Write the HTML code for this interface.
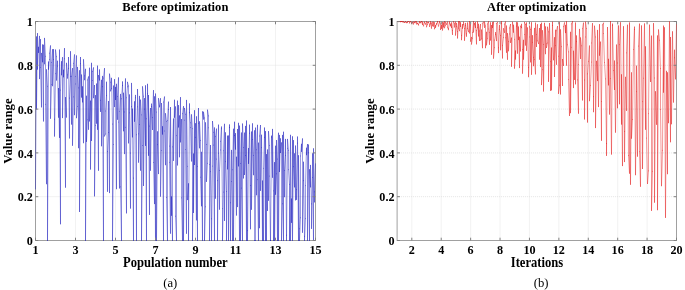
<!DOCTYPE html>
<html><head><meta charset="utf-8"><style>
html,body{margin:0;padding:0;background:#fff;}
svg{display:block;will-change:transform;}
.lab{font-family:"Liberation Serif", serif;font-weight:bold;font-size:13px;fill:#000;}
.tk{font-family:"Liberation Serif", serif;font-weight:bold;font-size:13.5px;fill:#000;}
.cap{font-family:"Liberation Serif", serif;font-size:13.5px;fill:#000;}
.grid{stroke:#dedede;stroke-width:0.8;stroke-dasharray:1 1;}
.box{fill:none;stroke:#a0a0a0;stroke-width:1;}
.tick{stroke:#808080;stroke-width:1;}
</style></head><body>
<svg width="685" height="290" viewBox="0 0 685 290">
<rect width="685" height="290" fill="#fff"/>
<line x1="75.50" y1="21.5" x2="75.50" y2="240.5" class="grid"/>
<line x1="115.50" y1="21.5" x2="115.50" y2="240.5" class="grid"/>
<line x1="155.50" y1="21.5" x2="155.50" y2="240.5" class="grid"/>
<line x1="195.50" y1="21.5" x2="195.50" y2="240.5" class="grid"/>
<line x1="235.50" y1="21.5" x2="235.50" y2="240.5" class="grid"/>
<line x1="275.50" y1="21.5" x2="275.50" y2="240.5" class="grid"/>
<line x1="35.5" y1="196.70" x2="315.5" y2="196.70" class="grid"/>
<line x1="35.5" y1="152.90" x2="315.5" y2="152.90" class="grid"/>
<line x1="35.5" y1="109.10" x2="315.5" y2="109.10" class="grid"/>
<line x1="35.5" y1="65.30" x2="315.5" y2="65.30" class="grid"/>
<rect x="35.5" y="21.5" width="280.00" height="219.0" class="box"/>
<g fill="none" stroke="#0808b8" stroke-width="0.6" stroke-opacity="0.68" stroke-linecap="round">
<line x1="35.5" y1="189.0" x2="36.5" y2="36.8"/>
<line x1="36.5" y1="36.8" x2="36.5" y2="109.1"/>
<line x1="36.5" y1="109.1" x2="37.5" y2="33.5"/>
<line x1="37.5" y1="33.5" x2="37.5" y2="69.2"/>
<line x1="37.5" y1="69.2" x2="38.5" y2="47.2"/>
<line x1="38.5" y1="47.2" x2="38.5" y2="52.5"/>
<line x1="38.5" y1="52.5" x2="39.5" y2="36.3"/>
<line x1="39.5" y1="36.3" x2="39.5" y2="78.7"/>
<line x1="39.5" y1="78.7" x2="40.5" y2="39.5"/>
<line x1="40.5" y1="39.5" x2="40.5" y2="67.3"/>
<line x1="40.5" y1="67.3" x2="41.5" y2="107.0"/>
<line x1="41.5" y1="107.0" x2="41.5" y2="53.3"/>
<line x1="41.5" y1="53.3" x2="42.5" y2="61.9"/>
<line x1="42.5" y1="61.9" x2="42.5" y2="44.8"/>
<line x1="42.5" y1="44.8" x2="43.5" y2="121.1"/>
<line x1="43.5" y1="121.1" x2="43.5" y2="45.1"/>
<line x1="43.5" y1="45.1" x2="44.5" y2="63.9"/>
<line x1="44.5" y1="63.9" x2="44.5" y2="38.3"/>
<line x1="44.5" y1="38.3" x2="45.5" y2="56.3"/>
<line x1="45.5" y1="56.3" x2="45.5" y2="104.3"/>
<line x1="45.5" y1="104.3" x2="46.5" y2="183.8"/>
<line x1="46.5" y1="183.8" x2="46.5" y2="69.7"/>
<line x1="46.5" y1="69.7" x2="47.5" y2="86.3"/>
<line x1="47.5" y1="86.3" x2="47.5" y2="240.5"/>
<line x1="47.5" y1="240.5" x2="48.5" y2="61.9"/>
<line x1="48.5" y1="61.9" x2="48.5" y2="69.3"/>
<line x1="48.5" y1="69.3" x2="49.5" y2="59.4"/>
<line x1="49.5" y1="59.4" x2="49.5" y2="53.2"/>
<line x1="49.5" y1="53.2" x2="50.5" y2="45.8"/>
<line x1="50.5" y1="45.8" x2="50.5" y2="118.4"/>
<line x1="50.5" y1="118.4" x2="51.5" y2="84.7"/>
<line x1="51.5" y1="84.7" x2="51.5" y2="62.4"/>
<line x1="51.5" y1="62.4" x2="52.5" y2="49.6"/>
<line x1="52.5" y1="49.6" x2="52.5" y2="85.8"/>
<line x1="52.5" y1="85.8" x2="53.5" y2="59.6"/>
<line x1="53.5" y1="59.6" x2="53.5" y2="49.5"/>
<line x1="53.5" y1="49.5" x2="54.5" y2="119.2"/>
<line x1="54.5" y1="119.2" x2="54.5" y2="136.2"/>
<line x1="54.5" y1="136.2" x2="55.5" y2="73.7"/>
<line x1="55.5" y1="73.7" x2="55.5" y2="49.9"/>
<line x1="55.5" y1="49.9" x2="56.5" y2="56.7"/>
<line x1="56.5" y1="56.7" x2="56.5" y2="80.2"/>
<line x1="56.5" y1="80.2" x2="57.5" y2="61.1"/>
<line x1="57.5" y1="61.1" x2="57.5" y2="66.1"/>
<line x1="57.5" y1="66.1" x2="58.5" y2="117.3"/>
<line x1="58.5" y1="117.3" x2="58.5" y2="88.4"/>
<line x1="58.5" y1="88.4" x2="59.5" y2="137.5"/>
<line x1="59.5" y1="137.5" x2="59.5" y2="49.9"/>
<line x1="59.5" y1="49.9" x2="60.5" y2="223.9"/>
<line x1="60.5" y1="223.9" x2="60.5" y2="90.1"/>
<line x1="60.5" y1="90.1" x2="61.5" y2="61.6"/>
<line x1="61.5" y1="61.6" x2="61.5" y2="74.9"/>
<line x1="61.5" y1="74.9" x2="62.5" y2="57.5"/>
<line x1="62.5" y1="57.5" x2="62.5" y2="117.7"/>
<line x1="62.5" y1="117.7" x2="63.5" y2="70.1"/>
<line x1="63.5" y1="70.1" x2="63.5" y2="76.9"/>
<line x1="63.5" y1="76.9" x2="64.5" y2="48.5"/>
<line x1="64.5" y1="48.5" x2="64.5" y2="58.8"/>
<line x1="64.5" y1="58.8" x2="65.5" y2="187.3"/>
<line x1="65.5" y1="187.3" x2="65.5" y2="97.5"/>
<line x1="65.5" y1="97.5" x2="66.5" y2="117.2"/>
<line x1="66.5" y1="117.2" x2="66.5" y2="63.2"/>
<line x1="66.5" y1="63.2" x2="67.5" y2="74.9"/>
<line x1="67.5" y1="74.9" x2="67.5" y2="78.2"/>
<line x1="67.5" y1="78.2" x2="68.5" y2="68.3"/>
<line x1="68.5" y1="68.3" x2="68.5" y2="57.4"/>
<line x1="68.5" y1="57.4" x2="69.5" y2="138.1"/>
<line x1="69.5" y1="138.1" x2="69.5" y2="98.1"/>
<line x1="69.5" y1="98.1" x2="70.5" y2="76.3"/>
<line x1="70.5" y1="76.3" x2="70.5" y2="51.6"/>
<line x1="70.5" y1="51.6" x2="71.5" y2="124.2"/>
<line x1="71.5" y1="124.2" x2="71.5" y2="76.3"/>
<line x1="71.5" y1="76.3" x2="72.5" y2="68.5"/>
<line x1="72.5" y1="68.5" x2="72.5" y2="145.4"/>
<line x1="72.5" y1="145.4" x2="73.5" y2="96.9"/>
<line x1="73.5" y1="96.9" x2="73.5" y2="63.3"/>
<line x1="73.5" y1="63.3" x2="74.5" y2="54.8"/>
<line x1="74.5" y1="54.8" x2="74.5" y2="114.8"/>
<line x1="74.5" y1="114.8" x2="75.5" y2="84.0"/>
<line x1="75.5" y1="84.0" x2="75.5" y2="76.4"/>
<line x1="75.5" y1="76.4" x2="76.5" y2="55.8"/>
<line x1="76.5" y1="55.8" x2="76.5" y2="117.8"/>
<line x1="76.5" y1="117.8" x2="77.5" y2="106.5"/>
<line x1="77.5" y1="106.5" x2="77.5" y2="67.3"/>
<line x1="77.5" y1="67.3" x2="78.5" y2="87.9"/>
<line x1="78.5" y1="87.9" x2="78.5" y2="147.8"/>
<line x1="78.5" y1="147.8" x2="79.5" y2="70.6"/>
<line x1="79.5" y1="70.6" x2="79.5" y2="211.6"/>
<line x1="79.5" y1="211.6" x2="80.5" y2="57.4"/>
<line x1="80.5" y1="57.4" x2="80.5" y2="63.7"/>
<line x1="80.5" y1="63.7" x2="81.5" y2="97.2"/>
<line x1="81.5" y1="97.2" x2="81.5" y2="74.9"/>
<line x1="81.5" y1="74.9" x2="82.5" y2="102.0"/>
<line x1="82.5" y1="102.0" x2="82.5" y2="86.7"/>
<line x1="82.5" y1="86.7" x2="83.5" y2="142.8"/>
<line x1="83.5" y1="142.8" x2="83.5" y2="59.6"/>
<line x1="83.5" y1="59.6" x2="84.5" y2="75.9"/>
<line x1="84.5" y1="75.9" x2="84.5" y2="79.8"/>
<line x1="84.5" y1="79.8" x2="85.5" y2="69.2"/>
<line x1="85.5" y1="69.2" x2="85.5" y2="240.5"/>
<line x1="85.5" y1="240.5" x2="86.5" y2="96.1"/>
<line x1="86.5" y1="96.1" x2="86.5" y2="141.5"/>
<line x1="86.5" y1="141.5" x2="87.5" y2="119.8"/>
<line x1="87.5" y1="119.8" x2="87.5" y2="80.0"/>
<line x1="87.5" y1="80.0" x2="88.5" y2="76.8"/>
<line x1="88.5" y1="76.8" x2="88.5" y2="129.4"/>
<line x1="88.5" y1="129.4" x2="89.5" y2="68.1"/>
<line x1="89.5" y1="68.1" x2="89.5" y2="121.1"/>
<line x1="89.5" y1="121.1" x2="90.5" y2="101.0"/>
<line x1="90.5" y1="101.0" x2="90.5" y2="169.2"/>
<line x1="90.5" y1="169.2" x2="91.5" y2="63.2"/>
<line x1="91.5" y1="63.2" x2="91.5" y2="140.6"/>
<line x1="91.5" y1="140.6" x2="92.5" y2="80.6"/>
<line x1="92.5" y1="80.6" x2="92.5" y2="71.6"/>
<line x1="92.5" y1="71.6" x2="93.5" y2="67.8"/>
<line x1="93.5" y1="67.8" x2="93.5" y2="97.8"/>
<line x1="93.5" y1="97.8" x2="94.5" y2="85.4"/>
<line x1="94.5" y1="85.4" x2="94.5" y2="196.0"/>
<line x1="94.5" y1="196.0" x2="95.5" y2="125.5"/>
<line x1="95.5" y1="125.5" x2="95.5" y2="95.5"/>
<line x1="95.5" y1="95.5" x2="96.5" y2="123.3"/>
<line x1="96.5" y1="123.3" x2="96.5" y2="83.9"/>
<line x1="96.5" y1="83.9" x2="97.5" y2="129.4"/>
<line x1="97.5" y1="129.4" x2="97.5" y2="66.0"/>
<line x1="97.5" y1="66.0" x2="98.5" y2="170.4"/>
<line x1="98.5" y1="170.4" x2="98.5" y2="75.5"/>
<line x1="98.5" y1="75.5" x2="99.5" y2="80.1"/>
<line x1="99.5" y1="80.1" x2="99.5" y2="69.8"/>
<line x1="99.5" y1="69.8" x2="100.5" y2="111.5"/>
<line x1="100.5" y1="111.5" x2="100.5" y2="100.3"/>
<line x1="100.5" y1="100.3" x2="101.5" y2="80.2"/>
<line x1="101.5" y1="80.2" x2="101.5" y2="145.9"/>
<line x1="101.5" y1="145.9" x2="102.5" y2="76.3"/>
<line x1="102.5" y1="76.3" x2="102.5" y2="86.7"/>
<line x1="102.5" y1="86.7" x2="103.5" y2="240.5"/>
<line x1="103.5" y1="240.5" x2="103.5" y2="78.1"/>
<line x1="103.5" y1="78.1" x2="104.5" y2="68.5"/>
<line x1="104.5" y1="68.5" x2="104.5" y2="136.1"/>
<line x1="104.5" y1="136.1" x2="105.5" y2="134.0"/>
<line x1="105.5" y1="134.0" x2="105.5" y2="111.0"/>
<line x1="105.5" y1="111.0" x2="106.5" y2="95.7"/>
<line x1="106.5" y1="95.7" x2="106.5" y2="82.1"/>
<line x1="106.5" y1="82.1" x2="107.5" y2="191.4"/>
<line x1="107.5" y1="191.4" x2="107.5" y2="151.6"/>
<line x1="107.5" y1="151.6" x2="108.5" y2="132.4"/>
<line x1="108.5" y1="132.4" x2="108.5" y2="101.4"/>
<line x1="108.5" y1="101.4" x2="109.5" y2="192.7"/>
<line x1="109.5" y1="192.7" x2="109.5" y2="74.0"/>
<line x1="109.5" y1="74.0" x2="110.5" y2="82.2"/>
<line x1="110.5" y1="82.2" x2="110.5" y2="91.0"/>
<line x1="110.5" y1="91.0" x2="111.5" y2="88.7"/>
<line x1="111.5" y1="88.7" x2="111.5" y2="78.2"/>
<line x1="111.5" y1="78.2" x2="112.5" y2="124.1"/>
<line x1="112.5" y1="124.1" x2="112.5" y2="240.5"/>
<line x1="112.5" y1="240.5" x2="113.5" y2="144.4"/>
<line x1="113.5" y1="144.4" x2="113.5" y2="85.9"/>
<line x1="113.5" y1="85.9" x2="114.5" y2="106.7"/>
<line x1="114.5" y1="106.7" x2="114.5" y2="79.5"/>
<line x1="114.5" y1="79.5" x2="115.5" y2="99.6"/>
<line x1="115.5" y1="99.6" x2="115.5" y2="87.3"/>
<line x1="115.5" y1="87.3" x2="116.5" y2="188.8"/>
<line x1="116.5" y1="188.8" x2="116.5" y2="84.2"/>
<line x1="116.5" y1="84.2" x2="117.5" y2="119.4"/>
<line x1="117.5" y1="119.4" x2="117.5" y2="96.6"/>
<line x1="117.5" y1="96.6" x2="118.5" y2="77.8"/>
<line x1="118.5" y1="77.8" x2="118.5" y2="122.1"/>
<line x1="118.5" y1="122.1" x2="119.5" y2="188.1"/>
<line x1="119.5" y1="188.1" x2="119.5" y2="111.3"/>
<line x1="119.5" y1="111.3" x2="120.5" y2="94.3"/>
<line x1="120.5" y1="94.3" x2="120.5" y2="186.9"/>
<line x1="120.5" y1="186.9" x2="121.5" y2="240.5"/>
<line x1="121.5" y1="240.5" x2="121.5" y2="98.8"/>
<line x1="121.5" y1="98.8" x2="122.5" y2="85.6"/>
<line x1="122.5" y1="85.6" x2="122.5" y2="81.8"/>
<line x1="122.5" y1="81.8" x2="123.5" y2="130.9"/>
<line x1="123.5" y1="130.9" x2="123.5" y2="93.1"/>
<line x1="123.5" y1="93.1" x2="124.5" y2="153.7"/>
<line x1="124.5" y1="153.7" x2="124.5" y2="112.0"/>
<line x1="124.5" y1="112.0" x2="125.5" y2="78.8"/>
<line x1="125.5" y1="78.8" x2="125.5" y2="127.3"/>
<line x1="125.5" y1="127.3" x2="126.5" y2="213.0"/>
<line x1="126.5" y1="213.0" x2="126.5" y2="97.8"/>
<line x1="126.5" y1="97.8" x2="127.5" y2="86.8"/>
<line x1="127.5" y1="86.8" x2="127.5" y2="82.2"/>
<line x1="127.5" y1="82.2" x2="128.5" y2="86.0"/>
<line x1="128.5" y1="86.0" x2="128.5" y2="143.0"/>
<line x1="128.5" y1="143.0" x2="129.5" y2="94.8"/>
<line x1="129.5" y1="94.8" x2="129.5" y2="112.9"/>
<line x1="129.5" y1="112.9" x2="130.5" y2="208.2"/>
<line x1="130.5" y1="208.2" x2="130.5" y2="153.1"/>
<line x1="130.5" y1="153.1" x2="131.5" y2="106.6"/>
<line x1="131.5" y1="106.6" x2="131.5" y2="83.3"/>
<line x1="131.5" y1="83.3" x2="132.5" y2="137.0"/>
<line x1="132.5" y1="137.0" x2="132.5" y2="109.0"/>
<line x1="132.5" y1="109.0" x2="133.5" y2="240.5"/>
<line x1="133.5" y1="240.5" x2="133.5" y2="178.1"/>
<line x1="133.5" y1="178.1" x2="134.5" y2="101.7"/>
<line x1="134.5" y1="101.7" x2="134.5" y2="121.4"/>
<line x1="134.5" y1="121.4" x2="135.5" y2="95.3"/>
<line x1="135.5" y1="95.3" x2="135.5" y2="97.8"/>
<line x1="135.5" y1="97.8" x2="136.5" y2="240.5"/>
<line x1="136.5" y1="240.5" x2="136.5" y2="134.8"/>
<line x1="136.5" y1="134.8" x2="137.5" y2="106.9"/>
<line x1="137.5" y1="106.9" x2="137.5" y2="89.4"/>
<line x1="137.5" y1="89.4" x2="138.5" y2="133.9"/>
<line x1="138.5" y1="133.9" x2="138.5" y2="162.3"/>
<line x1="138.5" y1="162.3" x2="139.5" y2="96.3"/>
<line x1="139.5" y1="96.3" x2="139.5" y2="124.4"/>
<line x1="139.5" y1="124.4" x2="140.5" y2="170.3"/>
<line x1="140.5" y1="170.3" x2="140.5" y2="100.0"/>
<line x1="140.5" y1="100.0" x2="141.5" y2="114.9"/>
<line x1="141.5" y1="114.9" x2="141.5" y2="240.5"/>
<line x1="141.5" y1="240.5" x2="142.5" y2="145.5"/>
<line x1="142.5" y1="145.5" x2="142.5" y2="86.7"/>
<line x1="142.5" y1="86.7" x2="143.5" y2="96.2"/>
<line x1="143.5" y1="96.2" x2="143.5" y2="185.6"/>
<line x1="143.5" y1="185.6" x2="144.5" y2="98.5"/>
<line x1="144.5" y1="98.5" x2="144.5" y2="109.1"/>
<line x1="144.5" y1="109.1" x2="145.5" y2="145.5"/>
<line x1="145.5" y1="145.5" x2="145.5" y2="85.7"/>
<line x1="145.5" y1="85.7" x2="146.5" y2="240.5"/>
<line x1="146.5" y1="240.5" x2="146.5" y2="118.8"/>
<line x1="146.5" y1="118.8" x2="147.5" y2="93.8"/>
<line x1="147.5" y1="93.8" x2="147.5" y2="84.2"/>
<line x1="147.5" y1="84.2" x2="148.5" y2="155.4"/>
<line x1="148.5" y1="155.4" x2="148.5" y2="95.4"/>
<line x1="148.5" y1="95.4" x2="149.5" y2="214.5"/>
<line x1="149.5" y1="214.5" x2="149.5" y2="126.1"/>
<line x1="149.5" y1="126.1" x2="150.5" y2="108.4"/>
<line x1="150.5" y1="108.4" x2="150.5" y2="170.4"/>
<line x1="150.5" y1="170.4" x2="151.5" y2="106.6"/>
<line x1="151.5" y1="106.6" x2="151.5" y2="104.0"/>
<line x1="151.5" y1="104.0" x2="152.5" y2="129.6"/>
<line x1="152.5" y1="129.6" x2="152.5" y2="117.5"/>
<line x1="152.5" y1="117.5" x2="153.5" y2="90.5"/>
<line x1="153.5" y1="90.5" x2="153.5" y2="162.5"/>
<line x1="153.5" y1="162.5" x2="154.5" y2="203.7"/>
<line x1="154.5" y1="203.7" x2="154.5" y2="96.7"/>
<line x1="154.5" y1="96.7" x2="155.5" y2="240.5"/>
<line x1="155.5" y1="240.5" x2="155.5" y2="93.9"/>
<line x1="155.5" y1="93.9" x2="156.5" y2="112.1"/>
<line x1="156.5" y1="112.1" x2="156.5" y2="240.5"/>
<line x1="156.5" y1="240.5" x2="157.5" y2="131.7"/>
<line x1="157.5" y1="131.7" x2="157.5" y2="144.7"/>
<line x1="157.5" y1="144.7" x2="158.5" y2="173.7"/>
<line x1="158.5" y1="173.7" x2="158.5" y2="98.5"/>
<line x1="158.5" y1="98.5" x2="159.5" y2="106.0"/>
<line x1="159.5" y1="106.0" x2="159.5" y2="107.0"/>
<line x1="159.5" y1="107.0" x2="160.5" y2="98.6"/>
<line x1="160.5" y1="98.6" x2="160.5" y2="196.3"/>
<line x1="160.5" y1="196.3" x2="161.5" y2="150.4"/>
<line x1="161.5" y1="150.4" x2="161.5" y2="103.4"/>
<line x1="161.5" y1="103.4" x2="162.5" y2="134.2"/>
<line x1="162.5" y1="134.2" x2="162.5" y2="126.6"/>
<line x1="162.5" y1="126.6" x2="163.5" y2="240.5"/>
<line x1="163.5" y1="240.5" x2="163.5" y2="102.1"/>
<line x1="163.5" y1="102.1" x2="164.5" y2="96.9"/>
<line x1="164.5" y1="96.9" x2="164.5" y2="131.0"/>
<line x1="164.5" y1="131.0" x2="165.5" y2="164.8"/>
<line x1="165.5" y1="164.8" x2="165.5" y2="113.6"/>
<line x1="165.5" y1="113.6" x2="166.5" y2="121.6"/>
<line x1="166.5" y1="121.6" x2="166.5" y2="197.5"/>
<line x1="166.5" y1="197.5" x2="167.5" y2="240.5"/>
<line x1="167.5" y1="240.5" x2="167.5" y2="120.4"/>
<line x1="167.5" y1="120.4" x2="168.5" y2="102.0"/>
<line x1="168.5" y1="102.0" x2="168.5" y2="109.4"/>
<line x1="168.5" y1="109.4" x2="169.5" y2="146.1"/>
<line x1="169.5" y1="146.1" x2="169.5" y2="162.3"/>
<line x1="169.5" y1="162.3" x2="170.5" y2="233.3"/>
<line x1="170.5" y1="233.3" x2="170.5" y2="107.4"/>
<line x1="170.5" y1="107.4" x2="171.5" y2="215.4"/>
<line x1="171.5" y1="215.4" x2="171.5" y2="196.8"/>
<line x1="171.5" y1="196.8" x2="172.5" y2="240.5"/>
<line x1="172.5" y1="240.5" x2="172.5" y2="146.9"/>
<line x1="172.5" y1="146.9" x2="173.5" y2="118.9"/>
<line x1="173.5" y1="118.9" x2="173.5" y2="160.5"/>
<line x1="173.5" y1="160.5" x2="174.5" y2="100.1"/>
<line x1="174.5" y1="100.1" x2="174.5" y2="117.3"/>
<line x1="174.5" y1="117.3" x2="175.5" y2="106.8"/>
<line x1="175.5" y1="106.8" x2="175.5" y2="216.2"/>
<line x1="175.5" y1="216.2" x2="176.5" y2="240.5"/>
<line x1="176.5" y1="240.5" x2="176.5" y2="135.7"/>
<line x1="176.5" y1="135.7" x2="177.5" y2="101.0"/>
<line x1="177.5" y1="101.0" x2="177.5" y2="165.1"/>
<line x1="177.5" y1="165.1" x2="178.5" y2="105.5"/>
<line x1="178.5" y1="105.5" x2="178.5" y2="127.1"/>
<line x1="178.5" y1="127.1" x2="179.5" y2="115.8"/>
<line x1="179.5" y1="115.8" x2="179.5" y2="156.9"/>
<line x1="179.5" y1="156.9" x2="180.5" y2="97.5"/>
<line x1="180.5" y1="97.5" x2="180.5" y2="142.0"/>
<line x1="180.5" y1="142.0" x2="181.5" y2="119.4"/>
<line x1="181.5" y1="119.4" x2="181.5" y2="197.9"/>
<line x1="181.5" y1="197.9" x2="182.5" y2="240.5"/>
<line x1="182.5" y1="240.5" x2="182.5" y2="113.7"/>
<line x1="182.5" y1="113.7" x2="183.5" y2="106.5"/>
<line x1="183.5" y1="106.5" x2="183.5" y2="240.5"/>
<line x1="183.5" y1="240.5" x2="184.5" y2="120.2"/>
<line x1="184.5" y1="120.2" x2="184.5" y2="108.3"/>
<line x1="184.5" y1="108.3" x2="185.5" y2="114.3"/>
<line x1="185.5" y1="114.3" x2="185.5" y2="149.6"/>
<line x1="185.5" y1="149.6" x2="186.5" y2="233.4"/>
<line x1="186.5" y1="233.4" x2="186.5" y2="100.3"/>
<line x1="186.5" y1="100.3" x2="187.5" y2="166.3"/>
<line x1="187.5" y1="166.3" x2="187.5" y2="199.7"/>
<line x1="187.5" y1="199.7" x2="188.5" y2="183.7"/>
<line x1="188.5" y1="183.7" x2="188.5" y2="240.5"/>
<line x1="188.5" y1="240.5" x2="189.5" y2="103.8"/>
<line x1="189.5" y1="103.8" x2="189.5" y2="112.7"/>
<line x1="189.5" y1="112.7" x2="190.5" y2="122.8"/>
<line x1="190.5" y1="122.8" x2="190.5" y2="127.4"/>
<line x1="190.5" y1="127.4" x2="191.5" y2="161.1"/>
<line x1="191.5" y1="161.1" x2="191.5" y2="114.7"/>
<line x1="191.5" y1="114.7" x2="192.5" y2="128.7"/>
<line x1="192.5" y1="128.7" x2="192.5" y2="240.5"/>
<line x1="192.5" y1="240.5" x2="193.5" y2="153.9"/>
<line x1="193.5" y1="153.9" x2="193.5" y2="212.6"/>
<line x1="193.5" y1="212.6" x2="194.5" y2="110.6"/>
<line x1="194.5" y1="110.6" x2="194.5" y2="164.6"/>
<line x1="194.5" y1="164.6" x2="195.5" y2="123.6"/>
<line x1="195.5" y1="123.6" x2="195.5" y2="137.3"/>
<line x1="195.5" y1="137.3" x2="196.5" y2="220.0"/>
<line x1="196.5" y1="220.0" x2="196.5" y2="116.7"/>
<line x1="196.5" y1="116.7" x2="197.5" y2="240.5"/>
<line x1="197.5" y1="240.5" x2="197.5" y2="166.3"/>
<line x1="197.5" y1="166.3" x2="198.5" y2="108.4"/>
<line x1="198.5" y1="108.4" x2="198.5" y2="123.3"/>
<line x1="198.5" y1="123.3" x2="199.5" y2="147.9"/>
<line x1="199.5" y1="147.9" x2="199.5" y2="121.7"/>
<line x1="199.5" y1="121.7" x2="200.5" y2="140.4"/>
<line x1="200.5" y1="140.4" x2="200.5" y2="177.2"/>
<line x1="200.5" y1="177.2" x2="201.5" y2="205.9"/>
<line x1="201.5" y1="205.9" x2="201.5" y2="152.2"/>
<line x1="201.5" y1="152.2" x2="202.5" y2="240.5"/>
<line x1="202.5" y1="240.5" x2="202.5" y2="111.7"/>
<line x1="202.5" y1="111.7" x2="203.5" y2="119.2"/>
<line x1="203.5" y1="119.2" x2="203.5" y2="112.1"/>
<line x1="203.5" y1="112.1" x2="204.5" y2="118.0"/>
<line x1="204.5" y1="118.0" x2="204.5" y2="240.5"/>
<line x1="204.5" y1="240.5" x2="205.5" y2="206.8"/>
<line x1="205.5" y1="206.8" x2="205.5" y2="122.7"/>
<line x1="205.5" y1="122.7" x2="206.5" y2="144.5"/>
<line x1="206.5" y1="144.5" x2="206.5" y2="181.5"/>
<line x1="206.5" y1="181.5" x2="207.5" y2="163.3"/>
<line x1="207.5" y1="163.3" x2="207.5" y2="110.0"/>
<line x1="207.5" y1="110.0" x2="208.5" y2="115.9"/>
<line x1="208.5" y1="115.9" x2="208.5" y2="127.8"/>
<line x1="208.5" y1="127.8" x2="209.5" y2="164.6"/>
<line x1="209.5" y1="164.6" x2="209.5" y2="240.5"/>
<line x1="209.5" y1="240.5" x2="210.5" y2="171.7"/>
<line x1="210.5" y1="171.7" x2="210.5" y2="145.4"/>
<line x1="210.5" y1="145.4" x2="211.5" y2="218.8"/>
<line x1="211.5" y1="218.8" x2="211.5" y2="240.5"/>
<line x1="211.5" y1="240.5" x2="212.5" y2="166.1"/>
<line x1="212.5" y1="166.1" x2="212.5" y2="121.4"/>
<line x1="212.5" y1="121.4" x2="213.5" y2="132.3"/>
<line x1="213.5" y1="132.3" x2="213.5" y2="145.1"/>
<line x1="213.5" y1="145.1" x2="214.5" y2="240.5"/>
<line x1="214.5" y1="240.5" x2="214.5" y2="127.8"/>
<line x1="214.5" y1="127.8" x2="215.5" y2="198.3"/>
<line x1="215.5" y1="198.3" x2="215.5" y2="136.4"/>
<line x1="215.5" y1="136.4" x2="216.5" y2="129.0"/>
<line x1="216.5" y1="129.0" x2="216.5" y2="159.1"/>
<line x1="216.5" y1="159.1" x2="217.5" y2="180.7"/>
<line x1="217.5" y1="180.7" x2="217.5" y2="240.5"/>
<line x1="217.5" y1="240.5" x2="218.5" y2="125.0"/>
<line x1="218.5" y1="125.0" x2="218.5" y2="153.2"/>
<line x1="218.5" y1="153.2" x2="219.5" y2="209.3"/>
<line x1="219.5" y1="209.3" x2="219.5" y2="170.5"/>
<line x1="219.5" y1="170.5" x2="220.5" y2="150.0"/>
<line x1="220.5" y1="150.0" x2="220.5" y2="141.3"/>
<line x1="220.5" y1="141.3" x2="221.5" y2="126.9"/>
<line x1="221.5" y1="126.9" x2="221.5" y2="128.8"/>
<line x1="221.5" y1="128.8" x2="222.5" y2="208.7"/>
<line x1="222.5" y1="208.7" x2="222.5" y2="240.5"/>
<line x1="222.5" y1="240.5" x2="223.5" y2="192.1"/>
<line x1="223.5" y1="192.1" x2="223.5" y2="150.8"/>
<line x1="223.5" y1="150.8" x2="224.5" y2="124.2"/>
<line x1="224.5" y1="124.2" x2="224.5" y2="220.6"/>
<line x1="224.5" y1="220.6" x2="225.5" y2="132.7"/>
<line x1="225.5" y1="132.7" x2="225.5" y2="161.7"/>
<line x1="225.5" y1="161.7" x2="226.5" y2="191.6"/>
<line x1="226.5" y1="191.6" x2="226.5" y2="240.5"/>
<line x1="226.5" y1="240.5" x2="227.5" y2="136.0"/>
<line x1="227.5" y1="136.0" x2="227.5" y2="169.0"/>
<line x1="227.5" y1="169.0" x2="228.5" y2="135.9"/>
<line x1="228.5" y1="135.9" x2="228.5" y2="240.5"/>
<line x1="228.5" y1="240.5" x2="229.5" y2="124.8"/>
<line x1="229.5" y1="124.8" x2="229.5" y2="127.5"/>
<line x1="229.5" y1="127.5" x2="230.5" y2="240.5"/>
<line x1="230.5" y1="240.5" x2="230.5" y2="202.8"/>
<line x1="230.5" y1="202.8" x2="231.5" y2="150.3"/>
<line x1="231.5" y1="150.3" x2="231.5" y2="181.4"/>
<line x1="231.5" y1="181.4" x2="232.5" y2="240.5"/>
<line x1="232.5" y1="240.5" x2="232.5" y2="169.8"/>
<line x1="232.5" y1="169.8" x2="233.5" y2="129.1"/>
<line x1="233.5" y1="129.1" x2="233.5" y2="240.5"/>
<line x1="233.5" y1="240.5" x2="234.5" y2="122.1"/>
<line x1="234.5" y1="122.1" x2="234.5" y2="135.4"/>
<line x1="234.5" y1="135.4" x2="235.5" y2="149.2"/>
<line x1="235.5" y1="149.2" x2="235.5" y2="133.5"/>
<line x1="235.5" y1="133.5" x2="236.5" y2="215.2"/>
<line x1="236.5" y1="215.2" x2="236.5" y2="157.1"/>
<line x1="236.5" y1="157.1" x2="237.5" y2="206.7"/>
<line x1="237.5" y1="206.7" x2="237.5" y2="129.4"/>
<line x1="237.5" y1="129.4" x2="238.5" y2="166.0"/>
<line x1="238.5" y1="166.0" x2="238.5" y2="123.2"/>
<line x1="238.5" y1="123.2" x2="239.5" y2="240.5"/>
<line x1="239.5" y1="240.5" x2="239.5" y2="126.0"/>
<line x1="239.5" y1="126.0" x2="240.5" y2="163.5"/>
<line x1="240.5" y1="163.5" x2="240.5" y2="240.5"/>
<line x1="240.5" y1="240.5" x2="241.5" y2="132.9"/>
<line x1="241.5" y1="132.9" x2="241.5" y2="188.1"/>
<line x1="241.5" y1="188.1" x2="242.5" y2="240.5"/>
<line x1="242.5" y1="240.5" x2="242.5" y2="123.9"/>
<line x1="242.5" y1="123.9" x2="243.5" y2="147.6"/>
<line x1="243.5" y1="147.6" x2="243.5" y2="178.1"/>
<line x1="243.5" y1="178.1" x2="244.5" y2="133.0"/>
<line x1="244.5" y1="133.0" x2="244.5" y2="174.6"/>
<line x1="244.5" y1="174.6" x2="245.5" y2="155.5"/>
<line x1="245.5" y1="155.5" x2="245.5" y2="126.3"/>
<line x1="245.5" y1="126.3" x2="246.5" y2="240.5"/>
<line x1="246.5" y1="240.5" x2="246.5" y2="120.9"/>
<line x1="246.5" y1="120.9" x2="247.5" y2="230.7"/>
<line x1="247.5" y1="230.7" x2="247.5" y2="240.5"/>
<line x1="247.5" y1="240.5" x2="248.5" y2="148.4"/>
<line x1="248.5" y1="148.4" x2="248.5" y2="163.5"/>
<line x1="248.5" y1="163.5" x2="249.5" y2="133.2"/>
<line x1="249.5" y1="133.2" x2="249.5" y2="125.0"/>
<line x1="249.5" y1="125.0" x2="250.5" y2="228.9"/>
<line x1="250.5" y1="228.9" x2="250.5" y2="185.4"/>
<line x1="250.5" y1="185.4" x2="251.5" y2="131.9"/>
<line x1="251.5" y1="131.9" x2="251.5" y2="209.4"/>
<line x1="251.5" y1="209.4" x2="252.5" y2="123.7"/>
<line x1="252.5" y1="123.7" x2="252.5" y2="139.6"/>
<line x1="252.5" y1="139.6" x2="253.5" y2="174.8"/>
<line x1="253.5" y1="174.8" x2="253.5" y2="155.4"/>
<line x1="253.5" y1="155.4" x2="254.5" y2="130.7"/>
<line x1="254.5" y1="130.7" x2="254.5" y2="240.5"/>
<line x1="254.5" y1="240.5" x2="255.5" y2="240.5"/>
<line x1="255.5" y1="240.5" x2="255.5" y2="128.0"/>
<line x1="255.5" y1="128.0" x2="256.5" y2="194.9"/>
<line x1="256.5" y1="194.9" x2="256.5" y2="149.8"/>
<line x1="256.5" y1="149.8" x2="257.5" y2="125.2"/>
<line x1="257.5" y1="125.2" x2="257.5" y2="179.7"/>
<line x1="257.5" y1="179.7" x2="258.5" y2="240.5"/>
<line x1="258.5" y1="240.5" x2="258.5" y2="143.0"/>
<line x1="258.5" y1="143.0" x2="259.5" y2="227.8"/>
<line x1="259.5" y1="227.8" x2="259.5" y2="136.0"/>
<line x1="259.5" y1="136.0" x2="260.5" y2="125.4"/>
<line x1="260.5" y1="125.4" x2="260.5" y2="190.5"/>
<line x1="260.5" y1="190.5" x2="261.5" y2="147.7"/>
<line x1="261.5" y1="147.7" x2="261.5" y2="135.1"/>
<line x1="261.5" y1="135.1" x2="262.5" y2="240.5"/>
<line x1="262.5" y1="240.5" x2="262.5" y2="180.9"/>
<line x1="262.5" y1="180.9" x2="263.5" y2="240.5"/>
<line x1="263.5" y1="240.5" x2="263.5" y2="168.3"/>
<line x1="263.5" y1="168.3" x2="264.5" y2="137.3"/>
<line x1="264.5" y1="137.3" x2="264.5" y2="127.9"/>
<line x1="264.5" y1="127.9" x2="265.5" y2="240.5"/>
<line x1="265.5" y1="240.5" x2="265.5" y2="131.5"/>
<line x1="265.5" y1="131.5" x2="266.5" y2="240.5"/>
<line x1="266.5" y1="240.5" x2="266.5" y2="154.5"/>
<line x1="266.5" y1="154.5" x2="267.5" y2="210.6"/>
<line x1="267.5" y1="210.6" x2="267.5" y2="149.8"/>
<line x1="267.5" y1="149.8" x2="268.5" y2="200.4"/>
<line x1="268.5" y1="200.4" x2="268.5" y2="131.5"/>
<line x1="268.5" y1="131.5" x2="269.5" y2="145.4"/>
<line x1="269.5" y1="145.4" x2="269.5" y2="176.1"/>
<line x1="269.5" y1="176.1" x2="270.5" y2="240.5"/>
<line x1="270.5" y1="240.5" x2="270.5" y2="240.5"/>
<line x1="270.5" y1="240.5" x2="271.5" y2="137.1"/>
<line x1="271.5" y1="137.1" x2="271.5" y2="136.0"/>
<line x1="271.5" y1="136.0" x2="272.5" y2="177.4"/>
<line x1="272.5" y1="177.4" x2="272.5" y2="129.3"/>
<line x1="272.5" y1="129.3" x2="273.5" y2="190.9"/>
<line x1="273.5" y1="190.9" x2="273.5" y2="240.5"/>
<line x1="273.5" y1="240.5" x2="274.5" y2="162.5"/>
<line x1="274.5" y1="162.5" x2="274.5" y2="240.5"/>
<line x1="274.5" y1="240.5" x2="275.5" y2="146.1"/>
<line x1="275.5" y1="146.1" x2="275.5" y2="194.4"/>
<line x1="275.5" y1="194.4" x2="276.5" y2="173.8"/>
<line x1="276.5" y1="173.8" x2="276.5" y2="140.4"/>
<line x1="276.5" y1="140.4" x2="277.5" y2="240.5"/>
<line x1="277.5" y1="240.5" x2="277.5" y2="159.1"/>
<line x1="277.5" y1="159.1" x2="278.5" y2="133.1"/>
<line x1="278.5" y1="133.1" x2="278.5" y2="240.5"/>
<line x1="278.5" y1="240.5" x2="279.5" y2="135.3"/>
<line x1="279.5" y1="135.3" x2="279.5" y2="171.6"/>
<line x1="279.5" y1="171.6" x2="280.5" y2="138.7"/>
<line x1="280.5" y1="138.7" x2="280.5" y2="152.6"/>
<line x1="280.5" y1="152.6" x2="281.5" y2="142.8"/>
<line x1="281.5" y1="142.8" x2="281.5" y2="240.5"/>
<line x1="281.5" y1="240.5" x2="282.5" y2="203.8"/>
<line x1="282.5" y1="203.8" x2="282.5" y2="135.3"/>
<line x1="282.5" y1="135.3" x2="283.5" y2="240.5"/>
<line x1="283.5" y1="240.5" x2="283.5" y2="132.1"/>
<line x1="283.5" y1="132.1" x2="284.5" y2="196.8"/>
<line x1="284.5" y1="196.8" x2="284.5" y2="170.5"/>
<line x1="284.5" y1="170.5" x2="285.5" y2="155.3"/>
<line x1="285.5" y1="155.3" x2="285.5" y2="139.3"/>
<line x1="285.5" y1="139.3" x2="286.5" y2="235.2"/>
<line x1="286.5" y1="235.2" x2="286.5" y2="240.5"/>
<line x1="286.5" y1="240.5" x2="287.5" y2="148.3"/>
<line x1="287.5" y1="148.3" x2="287.5" y2="139.3"/>
<line x1="287.5" y1="139.3" x2="288.5" y2="150.3"/>
<line x1="288.5" y1="150.3" x2="288.5" y2="169.7"/>
<line x1="288.5" y1="169.7" x2="289.5" y2="184.3"/>
<line x1="289.5" y1="184.3" x2="289.5" y2="240.5"/>
<line x1="289.5" y1="240.5" x2="290.5" y2="135.2"/>
<line x1="290.5" y1="135.2" x2="290.5" y2="240.5"/>
<line x1="290.5" y1="240.5" x2="291.5" y2="198.9"/>
<line x1="291.5" y1="198.9" x2="291.5" y2="222.5"/>
<line x1="291.5" y1="222.5" x2="292.5" y2="136.7"/>
<line x1="292.5" y1="136.7" x2="292.5" y2="240.5"/>
<line x1="292.5" y1="240.5" x2="293.5" y2="140.5"/>
<line x1="293.5" y1="140.5" x2="293.5" y2="166.7"/>
<line x1="293.5" y1="166.7" x2="294.5" y2="187.0"/>
<line x1="294.5" y1="187.0" x2="294.5" y2="153.7"/>
<line x1="294.5" y1="153.7" x2="295.5" y2="200.0"/>
<line x1="295.5" y1="200.0" x2="295.5" y2="145.9"/>
<line x1="295.5" y1="145.9" x2="296.5" y2="189.7"/>
<line x1="296.5" y1="189.7" x2="296.5" y2="199.5"/>
<line x1="296.5" y1="199.5" x2="297.5" y2="143.1"/>
<line x1="297.5" y1="143.1" x2="297.5" y2="136.9"/>
<line x1="297.5" y1="136.9" x2="298.5" y2="240.5"/>
<line x1="298.5" y1="240.5" x2="298.5" y2="155.6"/>
<line x1="298.5" y1="155.6" x2="299.5" y2="228.8"/>
<line x1="299.5" y1="228.8" x2="299.5" y2="240.5"/>
<line x1="299.5" y1="240.5" x2="300.5" y2="217.8"/>
<line x1="300.5" y1="217.8" x2="300.5" y2="156.0"/>
<line x1="300.5" y1="156.0" x2="301.5" y2="144.2"/>
<line x1="301.5" y1="144.2" x2="301.5" y2="151.5"/>
<line x1="301.5" y1="151.5" x2="302.5" y2="138.8"/>
<line x1="302.5" y1="138.8" x2="302.5" y2="232.4"/>
<line x1="302.5" y1="232.4" x2="303.5" y2="180.7"/>
<line x1="303.5" y1="180.7" x2="303.5" y2="162.1"/>
<line x1="303.5" y1="162.1" x2="304.5" y2="236.3"/>
<line x1="304.5" y1="236.3" x2="304.5" y2="240.5"/>
<line x1="304.5" y1="240.5" x2="305.5" y2="218.7"/>
<line x1="305.5" y1="218.7" x2="305.5" y2="185.7"/>
<line x1="305.5" y1="185.7" x2="306.5" y2="148.1"/>
<line x1="306.5" y1="148.1" x2="306.5" y2="154.8"/>
<line x1="306.5" y1="154.8" x2="307.5" y2="144.4"/>
<line x1="307.5" y1="144.4" x2="307.5" y2="240.5"/>
<line x1="307.5" y1="240.5" x2="308.5" y2="144.9"/>
<line x1="308.5" y1="144.9" x2="308.5" y2="152.8"/>
<line x1="308.5" y1="152.8" x2="309.5" y2="240.5"/>
<line x1="309.5" y1="240.5" x2="309.5" y2="169.6"/>
<line x1="309.5" y1="169.6" x2="310.5" y2="187.0"/>
<line x1="310.5" y1="187.0" x2="310.5" y2="165.3"/>
<line x1="310.5" y1="165.3" x2="311.5" y2="203.9"/>
<line x1="311.5" y1="203.9" x2="311.5" y2="228.5"/>
<line x1="311.5" y1="228.5" x2="312.5" y2="177.5"/>
<line x1="312.5" y1="177.5" x2="312.5" y2="153.7"/>
<line x1="312.5" y1="153.7" x2="313.5" y2="240.5"/>
<line x1="313.5" y1="240.5" x2="313.5" y2="148.7"/>
<line x1="313.5" y1="148.7" x2="314.5" y2="202.0"/>
<line x1="314.5" y1="202.0" x2="314.5" y2="191.9"/>
<line x1="314.5" y1="191.9" x2="315.5" y2="163.8"/>
</g>
<line x1="35.50" y1="240.5" x2="35.50" y2="237.7" class="tick"/>
<line x1="35.50" y1="21.5" x2="35.50" y2="24.3" class="tick"/>
<text transform="translate(35.50,253.80) scale(0.9,1.0)" text-anchor="middle" class="tk">1</text>
<line x1="75.50" y1="240.5" x2="75.50" y2="237.7" class="tick"/>
<line x1="75.50" y1="21.5" x2="75.50" y2="24.3" class="tick"/>
<text transform="translate(75.50,253.80) scale(0.9,1.0)" text-anchor="middle" class="tk">3</text>
<line x1="115.50" y1="240.5" x2="115.50" y2="237.7" class="tick"/>
<line x1="115.50" y1="21.5" x2="115.50" y2="24.3" class="tick"/>
<text transform="translate(115.50,253.80) scale(0.9,1.0)" text-anchor="middle" class="tk">5</text>
<line x1="155.50" y1="240.5" x2="155.50" y2="237.7" class="tick"/>
<line x1="155.50" y1="21.5" x2="155.50" y2="24.3" class="tick"/>
<text transform="translate(155.50,253.80) scale(0.9,1.0)" text-anchor="middle" class="tk">7</text>
<line x1="195.50" y1="240.5" x2="195.50" y2="237.7" class="tick"/>
<line x1="195.50" y1="21.5" x2="195.50" y2="24.3" class="tick"/>
<text transform="translate(195.50,253.80) scale(0.9,1.0)" text-anchor="middle" class="tk">9</text>
<line x1="235.50" y1="240.5" x2="235.50" y2="237.7" class="tick"/>
<line x1="235.50" y1="21.5" x2="235.50" y2="24.3" class="tick"/>
<text transform="translate(235.50,253.80) scale(0.9,1.0)" text-anchor="middle" class="tk">11</text>
<line x1="275.50" y1="240.5" x2="275.50" y2="237.7" class="tick"/>
<line x1="275.50" y1="21.5" x2="275.50" y2="24.3" class="tick"/>
<text transform="translate(275.50,253.80) scale(0.9,1.0)" text-anchor="middle" class="tk">13</text>
<line x1="315.50" y1="240.5" x2="315.50" y2="237.7" class="tick"/>
<line x1="315.50" y1="21.5" x2="315.50" y2="24.3" class="tick"/>
<text transform="translate(315.50,253.80) scale(0.9,1.0)" text-anchor="middle" class="tk">15</text>
<line x1="35.5" y1="240.50" x2="38.3" y2="240.50" class="tick"/>
<line x1="315.5" y1="240.50" x2="312.7" y2="240.50" class="tick"/>
<text transform="translate(32.90,245.10) scale(0.9,1.0)" text-anchor="end" class="tk">0</text>
<line x1="35.5" y1="196.70" x2="38.3" y2="196.70" class="tick"/>
<line x1="315.5" y1="196.70" x2="312.7" y2="196.70" class="tick"/>
<text transform="translate(32.90,201.30) scale(0.9,1.0)" text-anchor="end" class="tk">0.2</text>
<line x1="35.5" y1="152.90" x2="38.3" y2="152.90" class="tick"/>
<line x1="315.5" y1="152.90" x2="312.7" y2="152.90" class="tick"/>
<text transform="translate(32.90,157.50) scale(0.9,1.0)" text-anchor="end" class="tk">0.4</text>
<line x1="35.5" y1="109.10" x2="38.3" y2="109.10" class="tick"/>
<line x1="315.5" y1="109.10" x2="312.7" y2="109.10" class="tick"/>
<text transform="translate(32.90,113.70) scale(0.9,1.0)" text-anchor="end" class="tk">0.6</text>
<line x1="35.5" y1="65.30" x2="38.3" y2="65.30" class="tick"/>
<line x1="315.5" y1="65.30" x2="312.7" y2="65.30" class="tick"/>
<text transform="translate(32.90,69.90) scale(0.9,1.0)" text-anchor="end" class="tk">0.8</text>
<line x1="35.5" y1="21.50" x2="38.3" y2="21.50" class="tick"/>
<line x1="315.5" y1="21.50" x2="312.7" y2="21.50" class="tick"/>
<text transform="translate(32.90,26.10) scale(0.9,1.0)" text-anchor="end" class="tk">1</text>
<text transform="translate(175.35,11.30) scale(0.966,1.0)" text-anchor="middle" class="lab">Before optimization</text>
<text transform="translate(175.35,266.60) scale(0.97,1.05)" text-anchor="middle" class="lab">Population number</text>
<text transform="translate(170.30,287.30) scale(0.94,1.0)" text-anchor="middle" class="cap">(a)</text>
<text transform="translate(12.30,131.00) rotate(-90) scale(0.985,1.0)" text-anchor="middle" class="lab">Value range</text>
<line x1="411.81" y1="21.5" x2="411.81" y2="240.5" class="grid"/>
<line x1="441.22" y1="21.5" x2="441.22" y2="240.5" class="grid"/>
<line x1="470.63" y1="21.5" x2="470.63" y2="240.5" class="grid"/>
<line x1="500.04" y1="21.5" x2="500.04" y2="240.5" class="grid"/>
<line x1="529.45" y1="21.5" x2="529.45" y2="240.5" class="grid"/>
<line x1="558.86" y1="21.5" x2="558.86" y2="240.5" class="grid"/>
<line x1="588.27" y1="21.5" x2="588.27" y2="240.5" class="grid"/>
<line x1="617.68" y1="21.5" x2="617.68" y2="240.5" class="grid"/>
<line x1="647.09" y1="21.5" x2="647.09" y2="240.5" class="grid"/>
<line x1="397.1" y1="196.70" x2="676.5" y2="196.70" class="grid"/>
<line x1="397.1" y1="152.90" x2="676.5" y2="152.90" class="grid"/>
<line x1="397.1" y1="109.10" x2="676.5" y2="109.10" class="grid"/>
<line x1="397.1" y1="65.30" x2="676.5" y2="65.30" class="grid"/>
<rect x="397.1" y="21.5" width="279.40" height="219.0" class="box"/>
<g fill="none" stroke="#e00000" stroke-width="0.5" stroke-opacity="0.8" stroke-linecap="round">
<line x1="397.5" y1="21.5" x2="397.5" y2="21.5"/>
<line x1="397.5" y1="21.5" x2="398.5" y2="21.5"/>
<line x1="398.5" y1="21.5" x2="398.5" y2="21.7"/>
<line x1="398.5" y1="21.7" x2="399.5" y2="21.6"/>
<line x1="399.5" y1="21.6" x2="399.5" y2="21.5"/>
<line x1="399.5" y1="21.5" x2="400.5" y2="21.8"/>
<line x1="400.5" y1="21.8" x2="400.5" y2="21.5"/>
<line x1="400.5" y1="21.5" x2="401.5" y2="21.6"/>
<line x1="401.5" y1="21.6" x2="401.5" y2="21.5"/>
<line x1="401.5" y1="21.5" x2="402.5" y2="21.8"/>
<line x1="402.5" y1="21.8" x2="402.5" y2="21.7"/>
<line x1="402.5" y1="21.7" x2="403.5" y2="22.1"/>
<line x1="403.5" y1="22.1" x2="403.5" y2="21.6"/>
<line x1="403.5" y1="21.6" x2="404.5" y2="22.5"/>
<line x1="404.5" y1="22.5" x2="404.5" y2="22.4"/>
<line x1="404.5" y1="22.4" x2="405.5" y2="22.0"/>
<line x1="405.5" y1="22.0" x2="405.5" y2="21.5"/>
<line x1="405.5" y1="21.5" x2="406.5" y2="22.8"/>
<line x1="406.5" y1="22.8" x2="406.5" y2="22.6"/>
<line x1="406.5" y1="22.6" x2="407.5" y2="22.6"/>
<line x1="407.5" y1="22.6" x2="407.5" y2="21.7"/>
<line x1="407.5" y1="21.7" x2="408.5" y2="21.5"/>
<line x1="408.5" y1="21.5" x2="409.5" y2="21.9"/>
<line x1="409.5" y1="21.9" x2="409.5" y2="23.1"/>
<line x1="409.5" y1="23.1" x2="410.5" y2="21.6"/>
<line x1="410.5" y1="21.6" x2="410.5" y2="21.6"/>
<line x1="410.5" y1="21.6" x2="411.5" y2="22.3"/>
<line x1="411.5" y1="22.3" x2="411.5" y2="23.7"/>
<line x1="411.5" y1="23.7" x2="412.5" y2="22.1"/>
<line x1="412.5" y1="22.1" x2="412.5" y2="23.0"/>
<line x1="412.5" y1="23.0" x2="413.5" y2="21.9"/>
<line x1="413.5" y1="21.9" x2="413.5" y2="24.2"/>
<line x1="413.5" y1="24.2" x2="414.5" y2="22.0"/>
<line x1="414.5" y1="22.0" x2="414.5" y2="22.6"/>
<line x1="414.5" y1="22.6" x2="415.5" y2="21.6"/>
<line x1="415.5" y1="21.6" x2="415.5" y2="22.1"/>
<line x1="415.5" y1="22.1" x2="416.5" y2="24.1"/>
<line x1="416.5" y1="24.1" x2="416.5" y2="21.6"/>
<line x1="416.5" y1="21.6" x2="417.5" y2="23.5"/>
<line x1="417.5" y1="23.5" x2="417.5" y2="23.3"/>
<line x1="417.5" y1="23.3" x2="418.5" y2="25.1"/>
<line x1="418.5" y1="25.1" x2="418.5" y2="24.4"/>
<line x1="418.5" y1="24.4" x2="419.5" y2="21.6"/>
<line x1="419.5" y1="21.6" x2="419.5" y2="22.7"/>
<line x1="419.5" y1="22.7" x2="420.5" y2="22.2"/>
<line x1="420.5" y1="22.2" x2="420.5" y2="22.9"/>
<line x1="420.5" y1="22.9" x2="421.5" y2="21.5"/>
<line x1="421.5" y1="21.5" x2="421.5" y2="21.6"/>
<line x1="421.5" y1="21.6" x2="422.5" y2="24.6"/>
<line x1="422.5" y1="24.6" x2="422.5" y2="22.0"/>
<line x1="422.5" y1="22.0" x2="423.5" y2="26.0"/>
<line x1="423.5" y1="26.0" x2="424.5" y2="21.9"/>
<line x1="424.5" y1="21.9" x2="424.5" y2="22.7"/>
<line x1="424.5" y1="22.7" x2="425.5" y2="24.2"/>
<line x1="425.5" y1="24.2" x2="425.5" y2="24.0"/>
<line x1="425.5" y1="24.0" x2="426.5" y2="21.6"/>
<line x1="426.5" y1="21.6" x2="426.5" y2="26.9"/>
<line x1="426.5" y1="26.9" x2="427.5" y2="24.5"/>
<line x1="427.5" y1="24.5" x2="427.5" y2="22.4"/>
<line x1="427.5" y1="22.4" x2="428.5" y2="22.7"/>
<line x1="428.5" y1="22.7" x2="428.5" y2="22.1"/>
<line x1="428.5" y1="22.1" x2="429.5" y2="24.2"/>
<line x1="429.5" y1="24.2" x2="429.5" y2="26.5"/>
<line x1="429.5" y1="26.5" x2="430.5" y2="23.7"/>
<line x1="430.5" y1="23.7" x2="430.5" y2="21.6"/>
<line x1="430.5" y1="21.6" x2="431.5" y2="28.3"/>
<line x1="431.5" y1="28.3" x2="431.5" y2="23.0"/>
<line x1="431.5" y1="23.0" x2="432.5" y2="22.2"/>
<line x1="432.5" y1="22.2" x2="432.5" y2="25.9"/>
<line x1="432.5" y1="25.9" x2="433.5" y2="22.1"/>
<line x1="433.5" y1="22.1" x2="433.5" y2="26.3"/>
<line x1="433.5" y1="26.3" x2="434.5" y2="22.6"/>
<line x1="434.5" y1="22.6" x2="434.5" y2="28.9"/>
<line x1="434.5" y1="28.9" x2="435.5" y2="25.4"/>
<line x1="435.5" y1="25.4" x2="435.5" y2="27.5"/>
<line x1="435.5" y1="27.5" x2="436.5" y2="23.6"/>
<line x1="436.5" y1="23.6" x2="436.5" y2="24.3"/>
<line x1="436.5" y1="24.3" x2="437.5" y2="21.9"/>
<line x1="437.5" y1="21.9" x2="437.5" y2="21.6"/>
<line x1="437.5" y1="21.6" x2="438.5" y2="26.2"/>
<line x1="438.5" y1="26.2" x2="439.5" y2="22.7"/>
<line x1="439.5" y1="22.7" x2="439.5" y2="21.5"/>
<line x1="439.5" y1="21.5" x2="440.5" y2="24.0"/>
<line x1="440.5" y1="24.0" x2="440.5" y2="29.6"/>
<line x1="440.5" y1="29.6" x2="441.5" y2="25.3"/>
<line x1="441.5" y1="25.3" x2="441.5" y2="28.5"/>
<line x1="441.5" y1="28.5" x2="442.5" y2="22.3"/>
<line x1="442.5" y1="22.3" x2="442.5" y2="30.2"/>
<line x1="442.5" y1="30.2" x2="443.5" y2="22.8"/>
<line x1="443.5" y1="22.8" x2="443.5" y2="27.0"/>
<line x1="443.5" y1="27.0" x2="444.5" y2="21.6"/>
<line x1="444.5" y1="21.6" x2="444.5" y2="27.9"/>
<line x1="444.5" y1="27.9" x2="445.5" y2="25.3"/>
<line x1="445.5" y1="25.3" x2="445.5" y2="22.1"/>
<line x1="445.5" y1="22.1" x2="446.5" y2="24.2"/>
<line x1="446.5" y1="24.2" x2="446.5" y2="24.3"/>
<line x1="446.5" y1="24.3" x2="447.5" y2="21.9"/>
<line x1="447.5" y1="21.9" x2="447.5" y2="27.2"/>
<line x1="447.5" y1="27.2" x2="448.5" y2="29.8"/>
<line x1="448.5" y1="29.8" x2="448.5" y2="28.4"/>
<line x1="448.5" y1="28.4" x2="449.5" y2="21.8"/>
<line x1="449.5" y1="21.8" x2="449.5" y2="23.0"/>
<line x1="449.5" y1="23.0" x2="450.5" y2="25.9"/>
<line x1="450.5" y1="25.9" x2="450.5" y2="24.0"/>
<line x1="450.5" y1="24.0" x2="451.5" y2="27.6"/>
<line x1="451.5" y1="27.6" x2="451.5" y2="22.7"/>
<line x1="451.5" y1="22.7" x2="452.5" y2="34.5"/>
<line x1="452.5" y1="34.5" x2="452.5" y2="30.6"/>
<line x1="452.5" y1="30.6" x2="453.5" y2="21.6"/>
<line x1="453.5" y1="21.6" x2="454.5" y2="23.8"/>
<line x1="454.5" y1="23.8" x2="454.5" y2="27.1"/>
<line x1="454.5" y1="27.1" x2="455.5" y2="22.0"/>
<line x1="455.5" y1="22.0" x2="455.5" y2="35.2"/>
<line x1="455.5" y1="35.2" x2="456.5" y2="26.6"/>
<line x1="456.5" y1="26.6" x2="456.5" y2="23.3"/>
<line x1="456.5" y1="23.3" x2="457.5" y2="31.4"/>
<line x1="457.5" y1="31.4" x2="457.5" y2="38.1"/>
<line x1="457.5" y1="38.1" x2="458.5" y2="21.6"/>
<line x1="458.5" y1="21.6" x2="458.5" y2="28.1"/>
<line x1="458.5" y1="28.1" x2="459.5" y2="30.8"/>
<line x1="459.5" y1="30.8" x2="459.5" y2="21.6"/>
<line x1="459.5" y1="21.6" x2="460.5" y2="26.6"/>
<line x1="460.5" y1="26.6" x2="460.5" y2="22.6"/>
<line x1="460.5" y1="22.6" x2="461.5" y2="35.3"/>
<line x1="461.5" y1="35.3" x2="461.5" y2="39.8"/>
<line x1="461.5" y1="39.8" x2="462.5" y2="24.4"/>
<line x1="462.5" y1="24.4" x2="462.5" y2="28.4"/>
<line x1="462.5" y1="28.4" x2="463.5" y2="24.6"/>
<line x1="463.5" y1="24.6" x2="463.5" y2="22.0"/>
<line x1="463.5" y1="22.0" x2="464.5" y2="28.4"/>
<line x1="464.5" y1="28.4" x2="464.5" y2="40.4"/>
<line x1="464.5" y1="40.4" x2="465.5" y2="23.3"/>
<line x1="465.5" y1="23.3" x2="465.5" y2="25.7"/>
<line x1="465.5" y1="25.7" x2="466.5" y2="36.3"/>
<line x1="466.5" y1="36.3" x2="466.5" y2="33.8"/>
<line x1="466.5" y1="33.8" x2="467.5" y2="22.8"/>
<line x1="467.5" y1="22.8" x2="467.5" y2="28.5"/>
<line x1="467.5" y1="28.5" x2="468.5" y2="31.8"/>
<line x1="468.5" y1="31.8" x2="469.5" y2="21.6"/>
<line x1="469.5" y1="21.6" x2="469.5" y2="33.1"/>
<line x1="469.5" y1="33.1" x2="470.5" y2="24.5"/>
<line x1="470.5" y1="24.5" x2="470.5" y2="41.3"/>
<line x1="470.5" y1="41.3" x2="471.5" y2="37.3"/>
<line x1="471.5" y1="37.3" x2="471.5" y2="44.2"/>
<line x1="471.5" y1="44.2" x2="472.5" y2="38.2"/>
<line x1="472.5" y1="38.2" x2="472.5" y2="32.6"/>
<line x1="472.5" y1="32.6" x2="473.5" y2="21.6"/>
<line x1="473.5" y1="21.6" x2="473.5" y2="32.2"/>
<line x1="473.5" y1="32.2" x2="474.5" y2="24.1"/>
<line x1="474.5" y1="24.1" x2="474.5" y2="23.2"/>
<line x1="474.5" y1="23.2" x2="475.5" y2="27.6"/>
<line x1="475.5" y1="27.6" x2="475.5" y2="22.4"/>
<line x1="475.5" y1="22.4" x2="476.5" y2="44.0"/>
<line x1="476.5" y1="44.0" x2="476.5" y2="30.5"/>
<line x1="476.5" y1="30.5" x2="477.5" y2="27.3"/>
<line x1="477.5" y1="27.3" x2="477.5" y2="21.9"/>
<line x1="477.5" y1="21.9" x2="478.5" y2="36.1"/>
<line x1="478.5" y1="36.1" x2="478.5" y2="24.2"/>
<line x1="478.5" y1="24.2" x2="479.5" y2="40.6"/>
<line x1="479.5" y1="40.6" x2="479.5" y2="31.0"/>
<line x1="479.5" y1="31.0" x2="480.5" y2="24.4"/>
<line x1="480.5" y1="24.4" x2="480.5" y2="40.2"/>
<line x1="480.5" y1="40.2" x2="481.5" y2="38.9"/>
<line x1="481.5" y1="38.9" x2="481.5" y2="29.9"/>
<line x1="481.5" y1="29.9" x2="482.5" y2="47.8"/>
<line x1="482.5" y1="47.8" x2="482.5" y2="23.2"/>
<line x1="482.5" y1="23.2" x2="483.5" y2="22.0"/>
<line x1="483.5" y1="22.0" x2="484.5" y2="27.5"/>
<line x1="484.5" y1="27.5" x2="484.5" y2="22.0"/>
<line x1="484.5" y1="22.0" x2="485.5" y2="26.0"/>
<line x1="485.5" y1="26.0" x2="485.5" y2="47.8"/>
<line x1="485.5" y1="47.8" x2="486.5" y2="32.2"/>
<line x1="486.5" y1="32.2" x2="486.5" y2="45.0"/>
<line x1="486.5" y1="45.0" x2="487.5" y2="38.3"/>
<line x1="487.5" y1="38.3" x2="487.5" y2="24.0"/>
<line x1="487.5" y1="24.0" x2="488.5" y2="21.7"/>
<line x1="488.5" y1="21.7" x2="488.5" y2="29.0"/>
<line x1="488.5" y1="29.0" x2="489.5" y2="44.4"/>
<line x1="489.5" y1="44.4" x2="489.5" y2="32.4"/>
<line x1="489.5" y1="32.4" x2="490.5" y2="22.7"/>
<line x1="490.5" y1="22.7" x2="490.5" y2="40.2"/>
<line x1="490.5" y1="40.2" x2="491.5" y2="25.4"/>
<line x1="491.5" y1="25.4" x2="491.5" y2="54.4"/>
<line x1="491.5" y1="54.4" x2="492.5" y2="22.5"/>
<line x1="492.5" y1="22.5" x2="492.5" y2="27.7"/>
<line x1="492.5" y1="27.7" x2="493.5" y2="22.1"/>
<line x1="493.5" y1="22.1" x2="493.5" y2="58.3"/>
<line x1="493.5" y1="58.3" x2="494.5" y2="47.7"/>
<line x1="494.5" y1="47.7" x2="494.5" y2="40.1"/>
<line x1="494.5" y1="40.1" x2="495.5" y2="34.6"/>
<line x1="495.5" y1="34.6" x2="495.5" y2="32.5"/>
<line x1="495.5" y1="32.5" x2="496.5" y2="40.7"/>
<line x1="496.5" y1="40.7" x2="496.5" y2="23.4"/>
<line x1="496.5" y1="23.4" x2="497.5" y2="22.3"/>
<line x1="497.5" y1="22.3" x2="498.5" y2="52.7"/>
<line x1="498.5" y1="52.7" x2="498.5" y2="47.8"/>
<line x1="498.5" y1="47.8" x2="499.5" y2="25.4"/>
<line x1="499.5" y1="25.4" x2="499.5" y2="29.5"/>
<line x1="499.5" y1="29.5" x2="500.5" y2="35.6"/>
<line x1="500.5" y1="35.6" x2="500.5" y2="49.9"/>
<line x1="500.5" y1="49.9" x2="501.5" y2="23.6"/>
<line x1="501.5" y1="23.6" x2="501.5" y2="21.6"/>
<line x1="501.5" y1="21.6" x2="502.5" y2="58.1"/>
<line x1="502.5" y1="58.1" x2="502.5" y2="45.3"/>
<line x1="502.5" y1="45.3" x2="503.5" y2="37.4"/>
<line x1="503.5" y1="37.4" x2="503.5" y2="28.6"/>
<line x1="503.5" y1="28.6" x2="504.5" y2="32.5"/>
<line x1="504.5" y1="32.5" x2="504.5" y2="24.1"/>
<line x1="504.5" y1="24.1" x2="505.5" y2="21.9"/>
<line x1="505.5" y1="21.9" x2="505.5" y2="37.8"/>
<line x1="505.5" y1="37.8" x2="506.5" y2="52.4"/>
<line x1="506.5" y1="52.4" x2="506.5" y2="25.9"/>
<line x1="506.5" y1="25.9" x2="507.5" y2="59.4"/>
<line x1="507.5" y1="59.4" x2="507.5" y2="33.5"/>
<line x1="507.5" y1="33.5" x2="508.5" y2="41.5"/>
<line x1="508.5" y1="41.5" x2="508.5" y2="50.9"/>
<line x1="508.5" y1="50.9" x2="509.5" y2="34.0"/>
<line x1="509.5" y1="34.0" x2="509.5" y2="28.0"/>
<line x1="509.5" y1="28.0" x2="510.5" y2="24.4"/>
<line x1="510.5" y1="24.4" x2="510.5" y2="42.5"/>
<line x1="510.5" y1="42.5" x2="511.5" y2="38.0"/>
<line x1="511.5" y1="38.0" x2="511.5" y2="66.4"/>
<line x1="511.5" y1="66.4" x2="512.5" y2="22.2"/>
<line x1="512.5" y1="22.2" x2="513.5" y2="32.3"/>
<line x1="513.5" y1="32.3" x2="513.5" y2="25.1"/>
<line x1="513.5" y1="25.1" x2="514.5" y2="39.3"/>
<line x1="514.5" y1="39.3" x2="514.5" y2="68.3"/>
<line x1="514.5" y1="68.3" x2="515.5" y2="50.9"/>
<line x1="515.5" y1="50.9" x2="515.5" y2="59.2"/>
<line x1="515.5" y1="59.2" x2="516.5" y2="22.5"/>
<line x1="516.5" y1="22.5" x2="516.5" y2="26.1"/>
<line x1="516.5" y1="26.1" x2="517.5" y2="53.3"/>
<line x1="517.5" y1="53.3" x2="517.5" y2="22.7"/>
<line x1="517.5" y1="22.7" x2="518.5" y2="39.7"/>
<line x1="518.5" y1="39.7" x2="518.5" y2="26.9"/>
<line x1="518.5" y1="26.9" x2="519.5" y2="67.7"/>
<line x1="519.5" y1="67.7" x2="519.5" y2="37.1"/>
<line x1="519.5" y1="37.1" x2="520.5" y2="51.1"/>
<line x1="520.5" y1="51.1" x2="520.5" y2="26.0"/>
<line x1="520.5" y1="26.0" x2="521.5" y2="27.8"/>
<line x1="521.5" y1="27.8" x2="521.5" y2="24.2"/>
<line x1="521.5" y1="24.2" x2="522.5" y2="49.5"/>
<line x1="522.5" y1="49.5" x2="522.5" y2="73.3"/>
<line x1="522.5" y1="73.3" x2="523.5" y2="40.2"/>
<line x1="523.5" y1="40.2" x2="523.5" y2="59.3"/>
<line x1="523.5" y1="59.3" x2="524.5" y2="34.4"/>
<line x1="524.5" y1="34.4" x2="524.5" y2="22.4"/>
<line x1="524.5" y1="22.4" x2="525.5" y2="24.5"/>
<line x1="525.5" y1="24.5" x2="525.5" y2="45.2"/>
<line x1="525.5" y1="45.2" x2="526.5" y2="22.8"/>
<line x1="526.5" y1="22.8" x2="526.5" y2="50.5"/>
<line x1="526.5" y1="50.5" x2="527.5" y2="27.8"/>
<line x1="527.5" y1="27.8" x2="528.5" y2="67.4"/>
<line x1="528.5" y1="67.4" x2="528.5" y2="76.8"/>
<line x1="528.5" y1="76.8" x2="529.5" y2="37.0"/>
<line x1="529.5" y1="37.0" x2="529.5" y2="26.0"/>
<line x1="529.5" y1="26.0" x2="530.5" y2="29.4"/>
<line x1="530.5" y1="29.4" x2="530.5" y2="62.0"/>
<line x1="530.5" y1="62.0" x2="531.5" y2="22.6"/>
<line x1="531.5" y1="22.6" x2="531.5" y2="74.4"/>
<line x1="531.5" y1="74.4" x2="532.5" y2="35.6"/>
<line x1="532.5" y1="35.6" x2="532.5" y2="42.3"/>
<line x1="532.5" y1="42.3" x2="533.5" y2="57.3"/>
<line x1="533.5" y1="57.3" x2="533.5" y2="65.8"/>
<line x1="533.5" y1="65.8" x2="534.5" y2="28.3"/>
<line x1="534.5" y1="28.3" x2="534.5" y2="59.6"/>
<line x1="534.5" y1="59.6" x2="535.5" y2="74.0"/>
<line x1="535.5" y1="74.0" x2="535.5" y2="23.0"/>
<line x1="535.5" y1="23.0" x2="536.5" y2="46.6"/>
<line x1="536.5" y1="46.6" x2="536.5" y2="34.6"/>
<line x1="536.5" y1="34.6" x2="537.5" y2="24.6"/>
<line x1="537.5" y1="24.6" x2="537.5" y2="40.8"/>
<line x1="537.5" y1="40.8" x2="538.5" y2="43.7"/>
<line x1="538.5" y1="43.7" x2="539.5" y2="28.4"/>
<line x1="539.5" y1="28.4" x2="539.5" y2="59.3"/>
<line x1="539.5" y1="59.3" x2="540.5" y2="24.4"/>
<line x1="540.5" y1="24.4" x2="540.5" y2="66.7"/>
<line x1="540.5" y1="66.7" x2="541.5" y2="23.1"/>
<line x1="541.5" y1="23.1" x2="541.5" y2="84.7"/>
<line x1="541.5" y1="84.7" x2="542.5" y2="69.7"/>
<line x1="542.5" y1="69.7" x2="542.5" y2="30.6"/>
<line x1="542.5" y1="30.6" x2="543.5" y2="44.6"/>
<line x1="543.5" y1="44.6" x2="543.5" y2="91.2"/>
<line x1="543.5" y1="91.2" x2="544.5" y2="23.2"/>
<line x1="544.5" y1="23.2" x2="545.5" y2="53.8"/>
<line x1="545.5" y1="53.8" x2="545.5" y2="26.8"/>
<line x1="545.5" y1="26.8" x2="546.5" y2="43.8"/>
<line x1="546.5" y1="43.8" x2="546.5" y2="47.6"/>
<line x1="546.5" y1="47.6" x2="547.5" y2="43.0"/>
<line x1="547.5" y1="43.0" x2="547.5" y2="27.1"/>
<line x1="547.5" y1="27.1" x2="548.5" y2="31.9"/>
<line x1="548.5" y1="31.9" x2="548.5" y2="81.5"/>
<line x1="548.5" y1="81.5" x2="549.5" y2="23.4"/>
<line x1="549.5" y1="23.4" x2="550.5" y2="61.7"/>
<line x1="550.5" y1="61.7" x2="550.5" y2="90.5"/>
<line x1="550.5" y1="90.5" x2="551.5" y2="47.9"/>
<line x1="551.5" y1="47.9" x2="551.5" y2="90.0"/>
<line x1="551.5" y1="90.0" x2="552.5" y2="22.1"/>
<line x1="552.5" y1="22.1" x2="552.5" y2="25.4"/>
<line x1="552.5" y1="25.4" x2="553.5" y2="59.9"/>
<line x1="553.5" y1="59.9" x2="554.5" y2="37.6"/>
<line x1="554.5" y1="37.6" x2="554.5" y2="76.6"/>
<line x1="554.5" y1="76.6" x2="555.5" y2="30.1"/>
<line x1="555.5" y1="30.1" x2="555.5" y2="45.7"/>
<line x1="555.5" y1="45.7" x2="556.5" y2="64.4"/>
<line x1="556.5" y1="64.4" x2="556.5" y2="30.8"/>
<line x1="556.5" y1="30.8" x2="557.5" y2="26.4"/>
<line x1="557.5" y1="26.4" x2="558.5" y2="56.2"/>
<line x1="558.5" y1="56.2" x2="558.5" y2="93.5"/>
<line x1="558.5" y1="93.5" x2="559.5" y2="85.2"/>
<line x1="559.5" y1="85.2" x2="559.5" y2="22.5"/>
<line x1="559.5" y1="22.5" x2="560.5" y2="94.1"/>
<line x1="560.5" y1="94.1" x2="560.5" y2="29.7"/>
<line x1="560.5" y1="29.7" x2="561.5" y2="46.7"/>
<line x1="561.5" y1="46.7" x2="562.5" y2="85.6"/>
<line x1="562.5" y1="85.6" x2="562.5" y2="59.4"/>
<line x1="562.5" y1="59.4" x2="563.5" y2="65.5"/>
<line x1="563.5" y1="65.5" x2="563.5" y2="26.6"/>
<line x1="563.5" y1="26.6" x2="564.5" y2="22.8"/>
<line x1="564.5" y1="22.8" x2="565.5" y2="32.7"/>
<line x1="565.5" y1="32.7" x2="565.5" y2="25.3"/>
<line x1="565.5" y1="25.3" x2="566.5" y2="65.3"/>
<line x1="566.5" y1="65.3" x2="566.5" y2="21.7"/>
<line x1="566.5" y1="21.7" x2="567.5" y2="44.8"/>
<line x1="567.5" y1="44.8" x2="568.5" y2="51.9"/>
<line x1="568.5" y1="51.9" x2="568.5" y2="79.5"/>
<line x1="568.5" y1="79.5" x2="569.5" y2="115.6"/>
<line x1="569.5" y1="115.6" x2="570.5" y2="32.2"/>
<line x1="570.5" y1="32.2" x2="570.5" y2="112.8"/>
<line x1="570.5" y1="112.8" x2="571.5" y2="47.3"/>
<line x1="571.5" y1="47.3" x2="571.5" y2="23.9"/>
<line x1="571.5" y1="23.9" x2="572.5" y2="21.6"/>
<line x1="572.5" y1="21.6" x2="573.5" y2="87.7"/>
<line x1="573.5" y1="87.7" x2="573.5" y2="51.1"/>
<line x1="573.5" y1="51.1" x2="574.5" y2="79.5"/>
<line x1="574.5" y1="79.5" x2="575.5" y2="22.9"/>
<line x1="575.5" y1="22.9" x2="575.5" y2="84.0"/>
<line x1="575.5" y1="84.0" x2="576.5" y2="41.7"/>
<line x1="576.5" y1="41.7" x2="576.5" y2="35.8"/>
<line x1="576.5" y1="35.8" x2="577.5" y2="79.9"/>
<line x1="577.5" y1="79.9" x2="578.5" y2="113.3"/>
<line x1="578.5" y1="113.3" x2="578.5" y2="64.6"/>
<line x1="578.5" y1="64.6" x2="579.5" y2="29.3"/>
<line x1="579.5" y1="29.3" x2="580.5" y2="58.6"/>
<line x1="580.5" y1="58.6" x2="580.5" y2="37.8"/>
<line x1="580.5" y1="37.8" x2="581.5" y2="45.8"/>
<line x1="581.5" y1="45.8" x2="582.5" y2="100.1"/>
<line x1="582.5" y1="100.1" x2="582.5" y2="28.7"/>
<line x1="582.5" y1="28.7" x2="583.5" y2="23.0"/>
<line x1="583.5" y1="23.0" x2="584.5" y2="80.0"/>
<line x1="584.5" y1="80.0" x2="584.5" y2="119.1"/>
<line x1="584.5" y1="119.1" x2="585.5" y2="37.0"/>
<line x1="585.5" y1="37.0" x2="585.5" y2="22.1"/>
<line x1="585.5" y1="22.1" x2="586.5" y2="28.6"/>
<line x1="586.5" y1="28.6" x2="587.5" y2="122.2"/>
<line x1="587.5" y1="122.2" x2="587.5" y2="73.9"/>
<line x1="587.5" y1="73.9" x2="588.5" y2="61.3"/>
<line x1="588.5" y1="61.3" x2="589.5" y2="45.9"/>
<line x1="589.5" y1="45.9" x2="589.5" y2="100.8"/>
<line x1="589.5" y1="100.8" x2="590.5" y2="85.4"/>
<line x1="590.5" y1="85.4" x2="591.5" y2="62.1"/>
<line x1="591.5" y1="62.1" x2="591.5" y2="43.0"/>
<line x1="591.5" y1="43.0" x2="592.5" y2="23.5"/>
<line x1="592.5" y1="23.5" x2="593.5" y2="96.7"/>
<line x1="593.5" y1="96.7" x2="593.5" y2="111.8"/>
<line x1="593.5" y1="111.8" x2="594.5" y2="26.1"/>
<line x1="594.5" y1="26.1" x2="595.5" y2="37.0"/>
<line x1="595.5" y1="37.0" x2="595.5" y2="127.7"/>
<line x1="595.5" y1="127.7" x2="596.5" y2="61.2"/>
<line x1="596.5" y1="61.2" x2="597.5" y2="80.7"/>
<line x1="597.5" y1="80.7" x2="597.5" y2="30.3"/>
<line x1="597.5" y1="30.3" x2="598.5" y2="106.7"/>
<line x1="598.5" y1="106.7" x2="599.5" y2="24.5"/>
<line x1="599.5" y1="24.5" x2="599.5" y2="55.3"/>
<line x1="599.5" y1="55.3" x2="600.5" y2="42.0"/>
<line x1="600.5" y1="42.0" x2="601.5" y2="140.4"/>
<line x1="601.5" y1="140.4" x2="601.5" y2="101.6"/>
<line x1="601.5" y1="101.6" x2="602.5" y2="24.9"/>
<line x1="602.5" y1="24.9" x2="603.5" y2="23.1"/>
<line x1="603.5" y1="23.1" x2="603.5" y2="33.6"/>
<line x1="603.5" y1="33.6" x2="604.5" y2="62.6"/>
<line x1="604.5" y1="62.6" x2="605.5" y2="78.9"/>
<line x1="605.5" y1="78.9" x2="606.5" y2="143.6"/>
<line x1="606.5" y1="143.6" x2="606.5" y2="155.5"/>
<line x1="606.5" y1="155.5" x2="607.5" y2="27.4"/>
<line x1="607.5" y1="27.4" x2="608.5" y2="85.0"/>
<line x1="608.5" y1="85.0" x2="608.5" y2="59.2"/>
<line x1="608.5" y1="59.2" x2="609.5" y2="114.2"/>
<line x1="609.5" y1="114.2" x2="610.5" y2="21.6"/>
<line x1="610.5" y1="21.6" x2="610.5" y2="78.7"/>
<line x1="610.5" y1="78.7" x2="611.5" y2="154.2"/>
<line x1="611.5" y1="154.2" x2="612.5" y2="24.0"/>
<line x1="612.5" y1="24.0" x2="612.5" y2="25.3"/>
<line x1="612.5" y1="25.3" x2="613.5" y2="70.4"/>
<line x1="613.5" y1="70.4" x2="614.5" y2="89.6"/>
<line x1="614.5" y1="89.6" x2="614.5" y2="60.9"/>
<line x1="614.5" y1="60.9" x2="615.5" y2="132.3"/>
<line x1="615.5" y1="132.3" x2="616.5" y2="44.9"/>
<line x1="616.5" y1="44.9" x2="617.5" y2="107.9"/>
<line x1="617.5" y1="107.9" x2="617.5" y2="63.0"/>
<line x1="617.5" y1="63.0" x2="618.5" y2="25.8"/>
<line x1="618.5" y1="25.8" x2="619.5" y2="103.9"/>
<line x1="619.5" y1="103.9" x2="619.5" y2="44.7"/>
<line x1="619.5" y1="44.7" x2="620.5" y2="22.6"/>
<line x1="620.5" y1="22.6" x2="621.5" y2="124.2"/>
<line x1="621.5" y1="124.2" x2="621.5" y2="74.7"/>
<line x1="621.5" y1="74.7" x2="622.5" y2="165.7"/>
<line x1="622.5" y1="165.7" x2="623.5" y2="26.6"/>
<line x1="623.5" y1="26.6" x2="624.5" y2="131.4"/>
<line x1="624.5" y1="131.4" x2="624.5" y2="161.7"/>
<line x1="624.5" y1="161.7" x2="625.5" y2="77.2"/>
<line x1="625.5" y1="77.2" x2="626.5" y2="110.5"/>
<line x1="626.5" y1="110.5" x2="626.5" y2="52.9"/>
<line x1="626.5" y1="52.9" x2="627.5" y2="25.1"/>
<line x1="627.5" y1="25.1" x2="628.5" y2="155.4"/>
<line x1="628.5" y1="155.4" x2="629.5" y2="173.3"/>
<line x1="629.5" y1="173.3" x2="629.5" y2="22.8"/>
<line x1="629.5" y1="22.8" x2="630.5" y2="184.4"/>
<line x1="630.5" y1="184.4" x2="631.5" y2="72.7"/>
<line x1="631.5" y1="72.7" x2="631.5" y2="138.3"/>
<line x1="631.5" y1="138.3" x2="632.5" y2="119.4"/>
<line x1="632.5" y1="119.4" x2="633.5" y2="49.4"/>
<line x1="633.5" y1="49.4" x2="634.5" y2="27.0"/>
<line x1="634.5" y1="27.0" x2="634.5" y2="29.5"/>
<line x1="634.5" y1="29.5" x2="635.5" y2="174.8"/>
<line x1="635.5" y1="174.8" x2="636.5" y2="91.7"/>
<line x1="636.5" y1="91.7" x2="636.5" y2="66.0"/>
<line x1="636.5" y1="66.0" x2="637.5" y2="156.3"/>
<line x1="637.5" y1="156.3" x2="638.5" y2="46.1"/>
<line x1="638.5" y1="46.1" x2="639.5" y2="24.0"/>
<line x1="639.5" y1="24.0" x2="639.5" y2="151.7"/>
<line x1="639.5" y1="151.7" x2="640.5" y2="186.4"/>
<line x1="640.5" y1="186.4" x2="641.5" y2="25.8"/>
<line x1="641.5" y1="25.8" x2="642.5" y2="101.7"/>
<line x1="642.5" y1="101.7" x2="642.5" y2="168.6"/>
<line x1="642.5" y1="168.6" x2="643.5" y2="78.2"/>
<line x1="643.5" y1="78.2" x2="644.5" y2="23.8"/>
<line x1="644.5" y1="23.8" x2="645.5" y2="129.4"/>
<line x1="645.5" y1="129.4" x2="645.5" y2="46.7"/>
<line x1="645.5" y1="46.7" x2="646.5" y2="138.1"/>
<line x1="646.5" y1="138.1" x2="647.5" y2="183.6"/>
<line x1="647.5" y1="183.6" x2="648.5" y2="170.9"/>
<line x1="648.5" y1="170.9" x2="648.5" y2="113.7"/>
<line x1="648.5" y1="113.7" x2="649.5" y2="25.0"/>
<line x1="649.5" y1="25.0" x2="650.5" y2="81.6"/>
<line x1="650.5" y1="81.6" x2="651.5" y2="36.0"/>
<line x1="651.5" y1="36.0" x2="651.5" y2="210.5"/>
<line x1="651.5" y1="210.5" x2="652.5" y2="171.3"/>
<line x1="652.5" y1="171.3" x2="653.5" y2="23.5"/>
<line x1="653.5" y1="23.5" x2="654.5" y2="78.0"/>
<line x1="654.5" y1="78.0" x2="654.5" y2="202.3"/>
<line x1="654.5" y1="202.3" x2="655.5" y2="91.6"/>
<line x1="655.5" y1="91.6" x2="656.5" y2="124.4"/>
<line x1="656.5" y1="124.4" x2="657.5" y2="35.8"/>
<line x1="657.5" y1="35.8" x2="657.5" y2="209.8"/>
<line x1="657.5" y1="209.8" x2="658.5" y2="29.8"/>
<line x1="658.5" y1="29.8" x2="659.5" y2="40.2"/>
<line x1="659.5" y1="40.2" x2="660.5" y2="68.6"/>
<line x1="660.5" y1="68.6" x2="660.5" y2="109.5"/>
<line x1="660.5" y1="109.5" x2="661.5" y2="185.8"/>
<line x1="661.5" y1="185.8" x2="662.5" y2="150.3"/>
<line x1="662.5" y1="150.3" x2="663.5" y2="26.0"/>
<line x1="663.5" y1="26.0" x2="663.5" y2="92.3"/>
<line x1="663.5" y1="92.3" x2="664.5" y2="27.7"/>
<line x1="664.5" y1="27.7" x2="665.5" y2="217.5"/>
<line x1="665.5" y1="217.5" x2="666.5" y2="71.2"/>
<line x1="666.5" y1="71.2" x2="667.5" y2="173.8"/>
<line x1="667.5" y1="173.8" x2="667.5" y2="72.7"/>
<line x1="667.5" y1="72.7" x2="668.5" y2="122.8"/>
<line x1="668.5" y1="122.8" x2="669.5" y2="21.9"/>
<line x1="669.5" y1="21.9" x2="670.5" y2="141.9"/>
<line x1="670.5" y1="141.9" x2="670.5" y2="37.4"/>
<line x1="670.5" y1="37.4" x2="671.5" y2="123.9"/>
<line x1="671.5" y1="123.9" x2="672.5" y2="31.7"/>
<line x1="672.5" y1="31.7" x2="673.5" y2="102.2"/>
<line x1="673.5" y1="102.2" x2="674.5" y2="50.1"/>
<line x1="674.5" y1="50.1" x2="674.5" y2="57.8"/>
<line x1="674.5" y1="57.8" x2="675.5" y2="79.0"/>
<line x1="675.5" y1="79.0" x2="676.5" y2="24.2"/>
</g>
<line x1="411.81" y1="240.5" x2="411.81" y2="237.7" class="tick"/>
<line x1="411.81" y1="21.5" x2="411.81" y2="24.3" class="tick"/>
<text transform="translate(411.81,253.80) scale(0.9,1.0)" text-anchor="middle" class="tk">2</text>
<line x1="441.22" y1="240.5" x2="441.22" y2="237.7" class="tick"/>
<line x1="441.22" y1="21.5" x2="441.22" y2="24.3" class="tick"/>
<text transform="translate(441.22,253.80) scale(0.9,1.0)" text-anchor="middle" class="tk">4</text>
<line x1="470.63" y1="240.5" x2="470.63" y2="237.7" class="tick"/>
<line x1="470.63" y1="21.5" x2="470.63" y2="24.3" class="tick"/>
<text transform="translate(470.63,253.80) scale(0.9,1.0)" text-anchor="middle" class="tk">6</text>
<line x1="500.04" y1="240.5" x2="500.04" y2="237.7" class="tick"/>
<line x1="500.04" y1="21.5" x2="500.04" y2="24.3" class="tick"/>
<text transform="translate(500.04,253.80) scale(0.9,1.0)" text-anchor="middle" class="tk">8</text>
<line x1="529.45" y1="240.5" x2="529.45" y2="237.7" class="tick"/>
<line x1="529.45" y1="21.5" x2="529.45" y2="24.3" class="tick"/>
<text transform="translate(529.45,253.80) scale(0.9,1.0)" text-anchor="middle" class="tk">10</text>
<line x1="558.86" y1="240.5" x2="558.86" y2="237.7" class="tick"/>
<line x1="558.86" y1="21.5" x2="558.86" y2="24.3" class="tick"/>
<text transform="translate(558.86,253.80) scale(0.9,1.0)" text-anchor="middle" class="tk">12</text>
<line x1="588.27" y1="240.5" x2="588.27" y2="237.7" class="tick"/>
<line x1="588.27" y1="21.5" x2="588.27" y2="24.3" class="tick"/>
<text transform="translate(588.27,253.80) scale(0.9,1.0)" text-anchor="middle" class="tk">14</text>
<line x1="617.68" y1="240.5" x2="617.68" y2="237.7" class="tick"/>
<line x1="617.68" y1="21.5" x2="617.68" y2="24.3" class="tick"/>
<text transform="translate(617.68,253.80) scale(0.9,1.0)" text-anchor="middle" class="tk">16</text>
<line x1="647.09" y1="240.5" x2="647.09" y2="237.7" class="tick"/>
<line x1="647.09" y1="21.5" x2="647.09" y2="24.3" class="tick"/>
<text transform="translate(647.09,253.80) scale(0.9,1.0)" text-anchor="middle" class="tk">18</text>
<line x1="676.50" y1="240.5" x2="676.50" y2="237.7" class="tick"/>
<line x1="676.50" y1="21.5" x2="676.50" y2="24.3" class="tick"/>
<text transform="translate(676.50,253.80) scale(0.9,1.0)" text-anchor="middle" class="tk">20</text>
<line x1="397.1" y1="240.50" x2="399.90000000000003" y2="240.50" class="tick"/>
<line x1="676.5" y1="240.50" x2="673.7" y2="240.50" class="tick"/>
<text transform="translate(394.50,245.10) scale(0.9,1.0)" text-anchor="end" class="tk">0</text>
<line x1="397.1" y1="196.70" x2="399.90000000000003" y2="196.70" class="tick"/>
<line x1="676.5" y1="196.70" x2="673.7" y2="196.70" class="tick"/>
<text transform="translate(394.50,201.30) scale(0.9,1.0)" text-anchor="end" class="tk">0.2</text>
<line x1="397.1" y1="152.90" x2="399.90000000000003" y2="152.90" class="tick"/>
<line x1="676.5" y1="152.90" x2="673.7" y2="152.90" class="tick"/>
<text transform="translate(394.50,157.50) scale(0.9,1.0)" text-anchor="end" class="tk">0.4</text>
<line x1="397.1" y1="109.10" x2="399.90000000000003" y2="109.10" class="tick"/>
<line x1="676.5" y1="109.10" x2="673.7" y2="109.10" class="tick"/>
<text transform="translate(394.50,113.70) scale(0.9,1.0)" text-anchor="end" class="tk">0.6</text>
<line x1="397.1" y1="65.30" x2="399.90000000000003" y2="65.30" class="tick"/>
<line x1="676.5" y1="65.30" x2="673.7" y2="65.30" class="tick"/>
<text transform="translate(394.50,69.90) scale(0.9,1.0)" text-anchor="end" class="tk">0.8</text>
<line x1="397.1" y1="21.50" x2="399.90000000000003" y2="21.50" class="tick"/>
<line x1="676.5" y1="21.50" x2="673.7" y2="21.50" class="tick"/>
<text transform="translate(394.50,26.10) scale(0.9,1.0)" text-anchor="end" class="tk">1</text>
<text transform="translate(536.60,11.30) scale(0.966,1.0)" text-anchor="middle" class="lab">After optimization</text>
<text transform="translate(537.00,266.60) scale(0.97,1.05)" text-anchor="middle" class="lab">Iterations</text>
<text transform="translate(541.20,287.30) scale(0.94,1.0)" text-anchor="middle" class="cap">(b)</text>
<text transform="translate(373.90,131.00) rotate(-90) scale(0.985,1.0)" text-anchor="middle" class="lab">Value range</text>
</svg>
</body></html>
